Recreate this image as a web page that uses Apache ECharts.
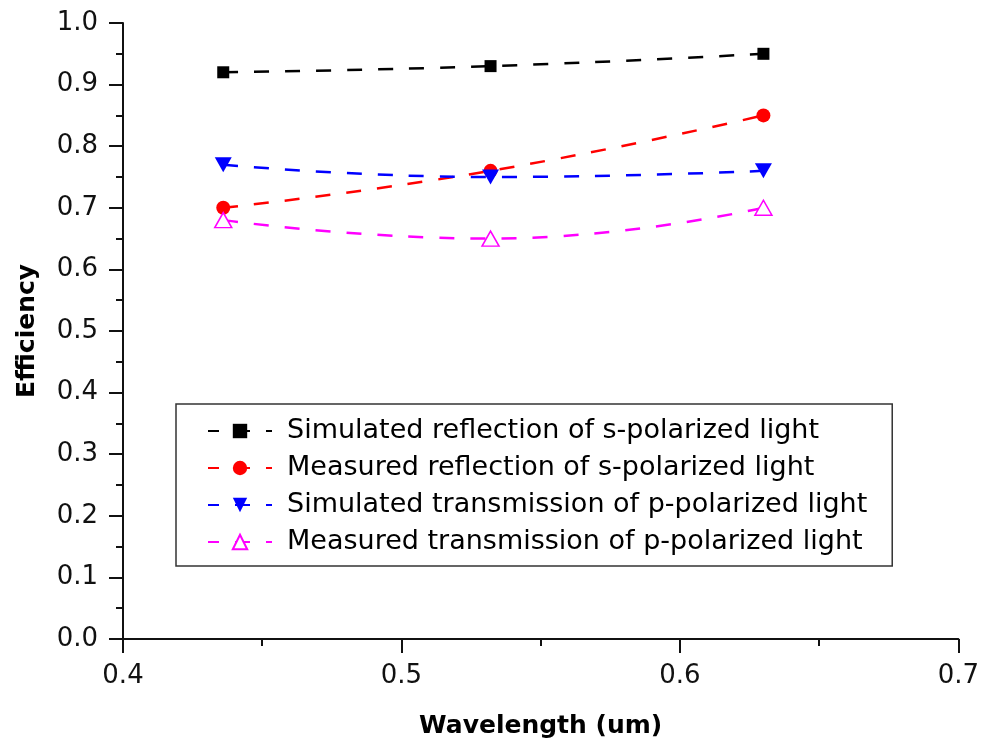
<!DOCTYPE html>
<html>
<head>
<meta charset="utf-8">
<script src="https://cdn.jsdelivr.net/npm/echarts@6/dist/echarts.min.js"></script>
<style>
  html, body { margin: 0; padding: 0; background: #fff; }
  #chart { width: 982px; height: 744px; }
</style>
</head>
<body>
<div id="chart"></div>
<script>
const wavelengths = [0.436, 0.532, 0.63];
const simReflS = [0.92, 0.93, 0.95];
const measReflS = [0.70, 0.76, 0.85];
const simTransP = [0.77, 0.75, 0.76];
const measTransP = [0.68, 0.65, 0.70];
const seriesNames = [
  'Simulated reflection of s-polarized light',
  'Measured reflection of s-polarized light',
  'Simulated transmission of p-polarized light',
  'Measured transmission of p-polarized light'
];

const font = 'DejaVu Sans';
const pairs = (ys) => wavelengths.map((x, i) => [x, ys[i]]);

const makeSeries = (name, ys, color, symbol, opts) => Object.assign({
  name: name,
  type: 'line',
  data: pairs(ys),
  smooth: 0.5,
  color: color,
  symbol: symbol,
  symbolSize: 13,
  lineStyle: { color: color, width: 2.5, type: [15, 16] },
  itemStyle: { color: color },
  z: 3
}, opts || {});

const chart = echarts.init(document.getElementById('chart'), null, { renderer: 'canvas' });

const axisColor = '#111';

const option = {
  animation: false,
  backgroundColor: '#fff',
  grid: { left: 123, right: 23, top: 23, bottom: 105 },
  xAxis: {
    type: 'value',
    min: 0.4,
    max: 0.7,
    interval: 0.1,
    name: 'Wavelength (um)',
    nameLocation: 'middle',
    nameGap: 75,
    nameTextStyle: { fontFamily: font, fontWeight: 'bold', fontSize: 25, color: '#000' },
    axisLine: { lineStyle: { color: axisColor, width: 2 } },
    axisTick: { length: 14, lineStyle: { color: axisColor, width: 2 } },
    minorTick: { show: true, splitNumber: 2, length: 7, lineStyle: { color: axisColor, width: 2 } },
    axisLabel: { fontFamily: font, fontSize: 26, color: '#111', margin: 24, formatter: v => v.toFixed(1) },
    splitLine: { show: false }
  },
  yAxis: {
    type: 'value',
    min: 0,
    max: 1,
    interval: 0.1,
    name: 'Efficiency',
    nameLocation: 'middle',
    nameGap: 83,
    nameTextStyle: { fontFamily: font, fontWeight: 'bold', fontSize: 25, color: '#000' },
    axisLine: { show: true, lineStyle: { color: axisColor, width: 2 } },
    axisTick: { length: 14, lineStyle: { color: axisColor, width: 2 } },
    minorTick: { show: true, splitNumber: 2, length: 7, lineStyle: { color: axisColor, width: 2 } },
    axisLabel: { fontFamily: font, fontSize: 26, color: '#111', margin: 25, formatter: v => v.toFixed(1) },
    splitLine: { show: false }
  },
  legend: {
    orient: 'vertical',
    left: 176,
    top: 404,
    padding: [13, 25, 10, 31],
    borderColor: '#333',
    borderWidth: 1.5,
    itemWidth: 64,
    itemHeight: 18,
    itemGap: 9,
    data: seriesNames,
    lineStyle: { dashOffset: 4 },
    textStyle: { fontFamily: font, fontSize: 27, color: '#000', lineHeight: 28, padding: [0, 0, 0, 10] }
  },
  series: [
    makeSeries(seriesNames[0], simReflS, '#000000', 'rect', { symbolSize: 12 }),
    makeSeries(seriesNames[1], measReflS, '#ff0000', 'circle', { symbolSize: 14 }),
    makeSeries(seriesNames[2], simTransP, '#0000ff', 'triangle', { symbolSize: [17, 15], symbolRotate: 180 }),
    makeSeries(seriesNames[3], measTransP, '#ff00ff', 'triangle', {
      symbolSize: [17, 15],
      itemStyle: { color: '#ffffff', borderColor: '#ff00ff', borderWidth: 1.5 }
    })
  ]
};

chart.setOption(option);
</script>
</body>
</html>
